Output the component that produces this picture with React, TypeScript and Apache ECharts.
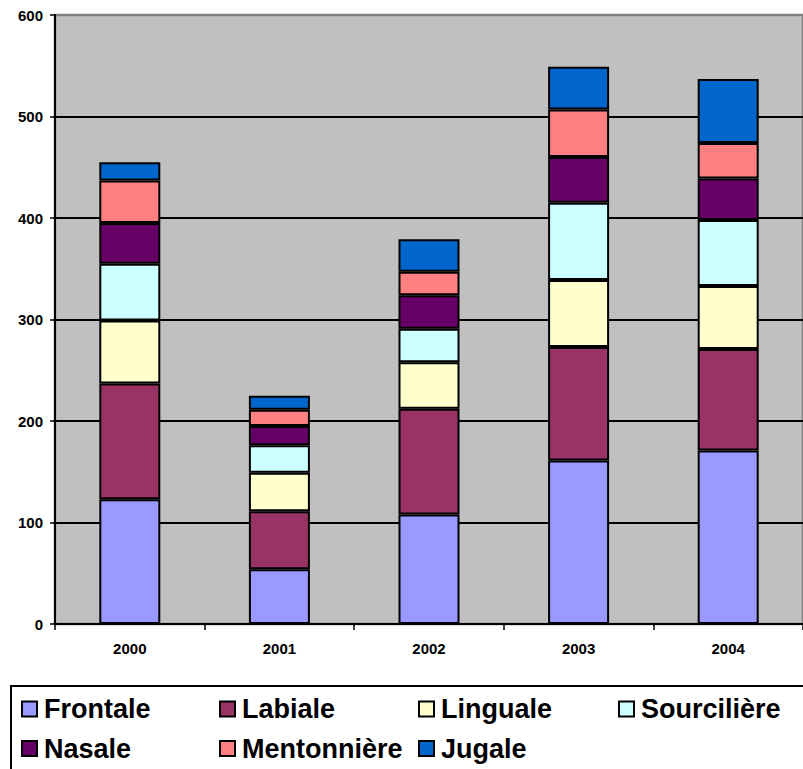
import React, { useEffect, useRef } from "react";
import * as echarts from "echarts";

const years = ["2000", "2001", "2002", "2003", "2004"];
const seriesNames = ["Frontale", "Labiale", "Linguale", "Sourcilière", "Nasale", "Mentonnière", "Jugale"];
const frontale = [123, 54, 108, 161, 171];
const labiale = [114, 57, 104, 112, 100];
const linguale = [62, 38, 46, 66, 62];
const sourciliere = [56, 27, 33, 76, 65];
const nasale = [40, 19, 33, 45, 41];
const mentonniere = [42, 16, 23, 47, 35];
const jugale = [18, 14, 32, 42, 63];
const colors = ["#9999FF", "#993366", "#FFFFCC", "#CCFFFF", "#660066", "#FF8080", "#0066CC"];
const yTicks = { min: 0, max: 600, interval: 100 };

const FONT = "Arial";

export default function App() {
  const ref = useRef<HTMLDivElement>(null);
  useEffect(() => {
    if (!ref.current) return;
    const chart = echarts.init(ref.current, undefined, { renderer: "svg" });
    const values = [frontale, labiale, linguale, sourciliere, nasale, mentonniere, jugale];
    const legendPos = [
      [21, 695.5], [219, 695.5], [418, 695.5], [618, 695.5],
      [21, 735], [219, 735], [418, 735],
    ];
    chart.setOption({
      animation: false,
      backgroundColor: "#FFFFFF",
      textStyle: { fontFamily: FONT, fontWeight: 700 },
      grid: {
        left: 55,
        right: -9,
        top: 15,
        bottom: 145,
        show: true,
        backgroundColor: "#C0C0C0",
        borderColor: "#808080",
        borderWidth: 2.5,
      },
      xAxis: {
        type: "category",
        data: years,
        axisLine: { show: true, lineStyle: { color: "#000", width: 2 } },
        axisTick: { show: true, length: 6, alignWithLabel: false, lineStyle: { color: "#000", width: 1.5 } },
        axisLabel: { margin: 17, fontSize: 15, fontWeight: 700, color: "#000", fontFamily: FONT },
        splitLine: { show: false },
      },
      yAxis: {
        type: "value",
        min: yTicks.min,
        max: yTicks.max,
        interval: yTicks.interval,
        axisLine: { show: true, lineStyle: { color: "#000", width: 2 } },
        axisTick: { show: true, length: 5, lineStyle: { color: "#000", width: 1.5 } },
        axisLabel: { margin: 12, fontSize: 15, fontWeight: 700, color: "#000", fontFamily: FONT },
        splitLine: { show: true, showMaxLine: false, showMinLine: false, lineStyle: { color: "#000", width: 2 } },
      },
      legend: seriesNames.map((name, i) => ({
        data: [name],
        left: legendPos[i][0],
        top: legendPos[i][1],
        padding: 0,
        icon: "rect",
        itemWidth: 15,
        itemHeight: 15,
        selectedMode: false,
        itemStyle: { borderColor: "#000", borderWidth: 2 },
        textStyle: {
          fontSize: 27,
          fontWeight: 700,
          color: "#000",
          fontFamily: FONT,
          lineHeight: 27,
          padding: [0, 0, 0, 2],
        },
      })),
      graphic: [
        {
          type: "rect",
          shape: { x: 11, y: 686, width: 830, height: 120 },
          style: { fill: "none", stroke: "#000", lineWidth: 2 },
          silent: true,
        },
      ],
      series: seriesNames.map((name, i) => ({
        name,
        type: "bar",
        stack: "total",
        barWidth: 61,
        data: values[i],
        itemStyle: { color: colors[i], borderColor: "#000", borderWidth: 2 },
      })),
    });
    return () => chart.dispose();
  }, []);
  return (
    <div
      ref={ref}
      style={{ position: "absolute", left: 0, top: 0, width: 803, height: 769 }}
    />
  );
}
